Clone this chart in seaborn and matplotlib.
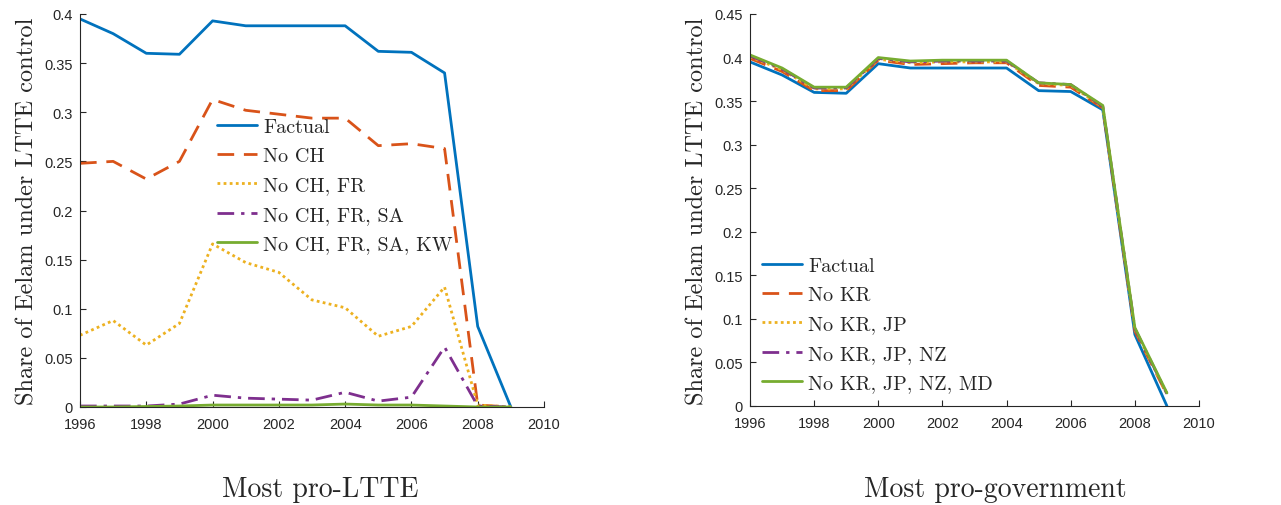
import matplotlib
matplotlib.use("Agg")
import matplotlib.pyplot as plt
import seaborn as sns
import numpy as np
import pandas as pd

years = list(range(1996, 2010))

factual = [0.395, 0.380, 0.360, 0.359, 0.393, 0.388, 0.388, 0.388, 0.388, 0.362, 0.361, 0.340, 0.082, 0.000]

# Left panel: most pro-LTTE
no_ch = [0.248, 0.250, 0.232, 0.250, 0.313, 0.302, 0.298, 0.294, 0.294, 0.266, 0.268, 0.263, 0.002, 0.000]
no_ch_fr = [0.073, 0.088, 0.063, 0.085, 0.166, 0.147, 0.137, 0.109, 0.101, 0.072, 0.082, 0.122, 0.002, 0.000]
no_ch_fr_sa = [0.001, 0.001, 0.001, 0.003, 0.012, 0.009, 0.008, 0.007, 0.015, 0.006, 0.010, 0.061, 0.001, 0.000]
no_ch_fr_sa_kw = [0.000, 0.000, 0.0005, 0.001, 0.002, 0.002, 0.002, 0.002, 0.003, 0.002, 0.002, 0.001, 0.000, 0.000]

# Right panel: most pro-government
no_kr = [0.399, 0.384, 0.362, 0.362, 0.397, 0.392, 0.393, 0.394, 0.394, 0.368, 0.366, 0.342, 0.086, 0.013]
no_kr_jp = [0.401, 0.386, 0.364, 0.364, 0.398, 0.394, 0.395, 0.395, 0.395, 0.370, 0.368, 0.343, 0.088, 0.014]
no_kr_jp_nz = [0.402, 0.387, 0.365, 0.365, 0.399, 0.395, 0.396, 0.396, 0.396, 0.371, 0.369, 0.344, 0.089, 0.014]
no_kr_jp_nz_md = [0.403, 0.388, 0.366, 0.366, 0.400, 0.396, 0.397, 0.397, 0.397, 0.371, 0.369, 0.345, 0.090, 0.015]

left_labels = ["Factual", "No CH", "No CH, FR", "No CH, FR, SA", "No CH, FR, SA, KW"]
right_labels = ["Factual", "No KR", "No KR, JP", "No KR, JP, NZ", "No KR, JP, NZ, MD"]

colors = ["#0072BD", "#D95319", "#EDB120", "#7E2F8E", "#77AC30"]
styles = ["-", (0, (6, 3.5)), (0, (1, 1.2)), (0, (6, 2.5, 1.2, 2.5)), "-"]

sns.set_style("ticks")
plt.rcParams["font.family"] = ["Liberation Sans", "DejaVu Sans"]

fig = plt.figure(figsize=(12.81, 5.06), dpi=100)
W, H = 1281, 506
axL = fig.add_axes([80 / W, 1 - 408 / H, (544 - 80) / W, (408 - 15) / H])
axR = fig.add_axes([750 / W, 1 - 407 / H, (1199 - 750) / W, (407 - 15) / H])

serif = "cmr10"

def draw(ax, series, labels, ymax, ystep, leg_anchor):
    for vals, lab, c, ls in zip(series, labels, colors, styles):
        df = pd.DataFrame({"year": years, "share": vals})
        sns.lineplot(data=df, x="year", y="share", ax=ax, color=c, linewidth=2.0,
                     linestyle=ls, label=lab)
    ax.set_xlim(1996, 2010)
    ax.set_ylim(0, ymax)
    ax.set_xticks(range(1996, 2011, 2))
    yt = np.round(np.arange(0, ymax + 1e-9, ystep), 2)
    ax.set_yticks(yt)
    ax.set_yticklabels([("%g" % v) for v in yt])
    ax.tick_params(direction="in", length=4, labelsize=10.5, colors="#262626",
                   width=0.8)
    ax.tick_params(axis="x", pad=7)
    ax.tick_params(axis="y", pad=5)
    for s in ["top", "right"]:
        ax.spines[s].set_visible(False)
    for s in ["left", "bottom"]:
        ax.spines[s].set_color("#262626")
        ax.spines[s].set_linewidth(0.8)
    ax.set_xlabel("")
    ax.set_ylabel("Share of Eelam under LTTE control", fontfamily=serif, fontsize=17.5, labelpad=4)
    leg = ax.legend(loc="upper left", bbox_to_anchor=leg_anchor, frameon=False,
                    prop={"family": serif, "size": 14.5}, handlelength=2.0,
                    handletextpad=0.3, labelspacing=0.55, borderaxespad=0, borderpad=0)
    return leg

draw(axL, [factual, no_ch, no_ch_fr, no_ch_fr_sa, no_ch_fr_sa_kw], left_labels, 0.4, 0.05,
     ((217 - 80) / (544 - 80), (408 - 119) / (408 - 15)))
draw(axR, [factual, no_kr, no_kr_jp, no_kr_jp_nz, no_kr_jp_nz_md], right_labels, 0.45, 0.05,
     ((762 - 750) / (1199 - 750), (407 - 258) / (407 - 15)))

fig.text(320 / W, 1 - 490 / H, "Most pro-LTTE", fontfamily=serif, fontsize=20, ha="center", va="center")
fig.text(995 / W, 1 - 490 / H, "Most pro-government", fontfamily=serif, fontsize=20, ha="center", va="center")

fig.savefig("out.png", dpi=100, facecolor="white")
